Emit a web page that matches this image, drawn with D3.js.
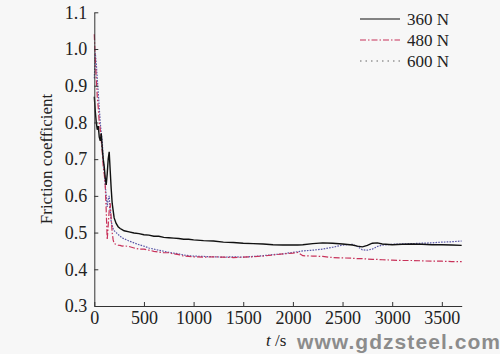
<!DOCTYPE html>
<html>
<head>
<meta charset="utf-8">
<script src="https://cdn.jsdelivr.net/npm/d3@7"></script>
<style>
  body { margin: 0; background: #f7f7f7; }
  svg { display: block; background: #f7f7f7; }
  .tick text { font-family: "Liberation Serif", serif; font-size: 18px; fill: #222; }
  .domain, .tick line { stroke: #333; }
</style>
</head>
<body>
<div id="chart"></div>
<script>
// time points (s) shared by the three loads
var times = [0,10,20,30,40,50,60,70,80,90,100,110,120,130,140,150,160,170,180,190,200,
  220,240,260,280,300,
  350,400,450,500,550,600,650,700,750,800,850,900,950,1000,
  1100,1200,1300,1400,1500,1600,1700,1800,1900,2000,
  2050,
  2100,2200,2300,2400,2500,2600,
  2650,2700,2750,2800,2850,2900,
  3000,3100,3200,3300,3400,3500,3600,3700];

var f360 = [0.87,0.83,0.80,0.78,0.79,0.76,0.75,0.77,0.73,0.70,0.68,0.65,0.63,0.66,0.70,0.72,0.67,0.62,0.58,0.56,0.54,
  0.525,0.516,0.511,0.508,0.505,
  0.502,0.499,0.497,0.494,0.493,0.490,0.490,0.487,0.486,0.485,0.484,0.482,0.482,0.480,
  0.478,0.477,0.474,0.473,0.471,0.470,0.469,0.467,0.466,0.466,
  0.466,
  0.467,0.470,0.472,0.471,0.469,0.466,
  0.463,0.461,0.465,0.471,0.472,0.469,
  0.467,0.468,0.469,0.468,0.467,0.467,0.466,0.465];

var f480 = [1.04,0.97,0.92,0.87,0.84,0.80,0.78,0.75,0.72,0.68,0.66,0.63,0.56,0.48,0.52,0.56,0.58,0.54,0.50,0.48,0.47,
  0.468,0.466,0.465,0.463,0.464,
  0.462,0.458,0.455,0.455,0.452,0.449,0.447,0.445,0.445,0.442,0.440,0.436,0.435,0.434,
  0.433,0.434,0.433,0.432,0.433,0.434,0.436,0.439,0.442,0.444,
  0.446,
  0.437,0.436,0.435,0.432,0.431,0.430,
  0.429,0.429,0.428,0.427,0.427,0.426,
  0.425,0.424,0.424,0.423,0.422,0.422,0.421,0.421];

var f600 = [0.92,0.99,0.96,0.92,0.88,0.84,0.80,0.77,0.75,0.70,0.67,0.63,0.60,0.57,0.59,0.60,0.56,0.53,0.52,0.51,0.505,
  0.500,0.495,0.490,0.486,0.483,
  0.477,0.472,0.467,0.463,0.458,0.455,0.452,0.449,0.446,0.444,0.442,0.439,0.437,0.436,
  0.435,0.434,0.433,0.434,0.433,0.435,0.437,0.440,0.442,0.446,
  0.448,
  0.450,0.452,0.455,0.460,0.466,0.468,
  0.462,0.453,0.452,0.455,0.462,0.466,
  0.468,0.469,0.470,0.471,0.472,0.474,0.475,0.477];

var seriesNames = ["360 N", "480 N", "600 N"];
var xTicks = [0,500,1000,1500,2000,2500,3000,3500];
var yTicks = [0.3,0.4,0.5,0.6,0.7,0.8,0.9,1.0,1.1];

var svgWidth = 500, svgHeight = 354;
var svg = d3.select("#chart").append("svg")
  .attr("width", svgWidth)
  .attr("height", svgHeight);

var x = d3.scaleLinear().domain([0, 3700]).range([94.3, 461.7]);
var y = d3.scaleLinear().domain([0.3, 1.1]).range([306, 12.3]);

var styles = [
  {color: "#111111", dash: null, width: 1.4},
  {color: "#c8325a", dash: "6,2,1.5,2", width: 1.2},
  {color: "#5a58a8", dash: "1.6,1.2", width: 1.2}
];
var allSeries = [f360, f480, f600];

var line = d3.line()
  .x(function(d, i) { return x(times[i]); })
  .y(function(d) { return y(d); });

// draw 600 first so the black line stays on top
[2, 1, 0].forEach(function(k) {
  svg.append("path")
    .datum(allSeries[k])
    .attr("fill", "none")
    .attr("stroke", styles[k].color)
    .attr("stroke-width", styles[k].width)
    .attr("stroke-dasharray", styles[k].dash)
    .attr("d", line);
});

svg.append("g")
  .attr("transform", "translate(0,306)")
  .call(d3.axisBottom(x).tickValues(xTicks).tickSizeInner(-4).tickSizeOuter(0).tickPadding(5)
    .tickFormat(d3.format("d")));

svg.append("g")
  .attr("transform", "translate(94.3,0)")
  .call(d3.axisLeft(y).tickValues(yTicks).tickSizeInner(-4).tickSizeOuter(0).tickPadding(7)
    .tickFormat(d3.format(".1f")));

// legend
var legend = svg.append("g");
seriesNames.forEach(function(name, k) {
  var ly = 19 + k * 21;
  legend.append("line")
    .attr("x1", 360).attr("x2", 400)
    .attr("y1", ly).attr("y2", ly)
    .attr("stroke", k == 2 ? "#666" : styles[k].color)
    .attr("stroke-width", 1.2)
    .attr("stroke-dasharray", k == 2 ? "1.5,4" : styles[k].dash);
  legend.append("text")
    .attr("x", 407).attr("y", ly + 6)
    .style("font-family", "Liberation Serif, serif")
    .style("font-size", "17px")
    .attr("fill", "#222")
    .text(name);
});

// axis titles
svg.append("text")
  .attr("transform", "translate(52,159) rotate(-90)")
  .style("text-anchor", "middle")
  .style("font-family", "Liberation Serif, serif")
  .style("font-size", "17px")
  .attr("fill", "#222")
  .text("Friction coefficient");

var xt = svg.append("text")
  .attr("x", 266).attr("y", 346)
  .style("font-family", "Liberation Serif, serif")
  .style("font-size", "17px")
  .attr("fill", "#222");
xt.append("tspan").style("font-style", "italic").text("t");
xt.append("tspan").text(" /s");

svg.append("text")
  .attr("x", 297).attr("y", 349)
  .attr("textLength", 203)
  .style("font-family", "Liberation Sans, Arial, sans-serif")
  .style("font-weight", "bold")
  .style("font-size", "21px")
  .attr("fill", "#8c8c8c")
  .text("www.gdzsteel.com");
</script>
</body>
</html>
